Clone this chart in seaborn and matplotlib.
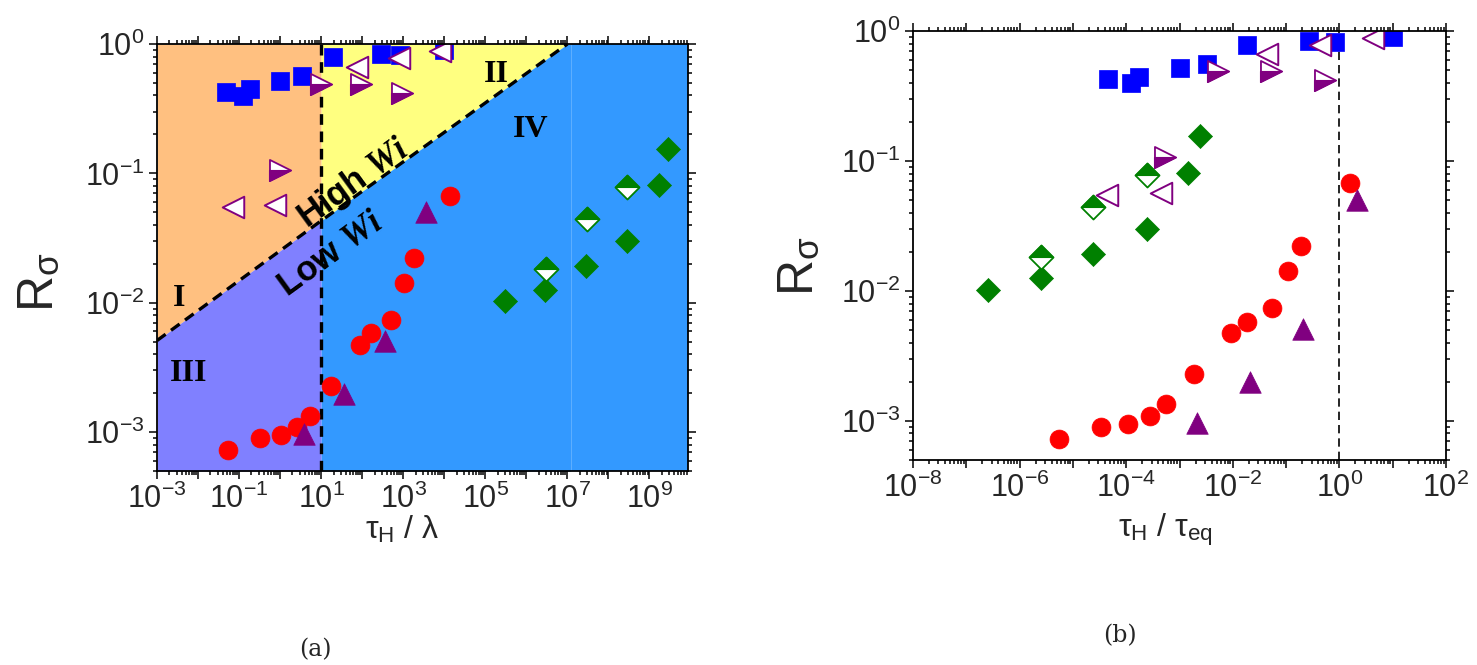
import numpy as np
import matplotlib
matplotlib.use("Agg")
import matplotlib.pyplot as plt
import seaborn as sns
from matplotlib.markers import MarkerStyle
from matplotlib.ticker import LogLocator, FuncFormatter, NullFormatter

# ---------------- data ----------------
# y values (R_sigma) shared by both panels
sq_y = [0.427, 0.398, 0.446, 0.519, 0.562, 0.787, 0.841, 0.828, 0.895]
sq_x_a = [0.0485, 0.124, 0.183, 1.02, 3.37, 19.0, 284, 841, 9590]
sq_x_b = [4.54e-5, 1.21e-4, 1.75e-4, 1.01e-3, 3.30e-3, 0.0188, 0.274, 0.838, 10.1]

ltri_y = [0.0547, 0.0570, 0.668, 0.782, 0.889]
ltri_x_a = [0.0731, 0.757, 73.6, 776, 7870]
ltri_x_b = [4.39e-5, 4.48e-4, 0.0437, 0.439, 4.33]

rtri_y = [0.107, 0.489, 0.494, 0.421]
rtri_x_a = [0.982, 9.73, 94.8, 946]
rtri_x_b = [5.27e-4, 5.27e-3, 0.0530, 0.541]

circ_y = [7.29e-4, 8.95e-4, 9.44e-4, 1.096e-3, 1.34e-3, 2.28e-3, 4.71e-3,
          5.79e-3, 7.35e-3, 0.01426, 0.0222, 0.0674]
circ_x_a = [0.0533, 0.319, 1.06, 2.62, 5.31, 17.3, 86.3, 168, 513, 1023, 1811, 13650]
circ_x_b = [5.58e-6, 3.38e-5, 1.07e-4, 2.75e-4, 5.62e-4, 1.84e-3, 9.16e-3,
            0.01845, 0.0540, 0.110, 0.1945, 1.55]

utri_y = [9.64e-4, 1.977e-3, 5.09e-3, 0.0504]
utri_x_a = [3.72, 37.0, 354, 3590]
utri_x_b = [2.17e-3, 0.0210, 0.211, 2.15]

dia_y = [0.01023, 0.01253, 0.01923, 0.03013, 0.0809, 0.1549]
dia_x_a = [2.99e5, 2.91e6, 2.90e7, 2.88e8, 1.68e9, 2.87e9]
dia_x_b = [2.51e-7, 2.48e-6, 2.40e-5, 2.42e-4, 1.445e-3, 2.43e-3]

hdia_y = [0.01837, 0.0445, 0.0785]
hdia_x_a = [2.98e6, 2.95e7, 2.88e8]
hdia_x_b = [2.48e-6, 2.40e-5, 2.42e-4]

# regime boundaries of panel (a)
diag_x = [1e-3, 10, 1e7]
diag_y = [5.1e-3, 0.043, 1.0]
wi_x = 10
seam_x = 1.2e7
xlim_a = (1e-3, 8.7e9)
xlim_b = (1e-8, 1e2)
ylim = (5e-4, 1.0)
vline_b = 1.0

# ---------------- style ----------------
sns.set_style("ticks")
plt.rcParams["font.family"] = ["Liberation Sans", "DejaVu Sans"]
plt.rcParams["mathtext.fontset"] = "custom"
plt.rcParams["mathtext.rm"] = "Liberation Sans"
plt.rcParams["mathtext.it"] = "Liberation Serif:italic:bold"
plt.rcParams["mathtext.bf"] = "Liberation Sans:bold"
plt.rcParams["mathtext.sf"] = "Liberation Sans"

BLUE = "#0000FF"
RED = "#FF0000"
PURP = "#800080"
GREEN = "#008000"

fig = plt.figure(figsize=(14.77, 6.65), dpi=100)
axA = fig.add_axes([157 / 1477, 1 - 471 / 665, 531 / 1477, 427 / 665])
axB = fig.add_axes([913 / 1477, 1 - 460 / 665, 533 / 1477, 429 / 665])

for ax in (axA, axB):
    ax.set_xscale("log")
    ax.set_yscale("log")


def scat(ax, x, y, marker, face, edge, s, lw, z):
    sns.scatterplot(x=x, y=y, marker=marker, s=s, color=face, edgecolor=edge,
                    linewidth=lw, ax=ax, zorder=z, legend=False)


def draw_points(ax, sx, lx, rx, cx, ux, dx, hx):
    scat(ax, sx, sq_y, "s", BLUE, BLUE, 165, 0.5, 3)
    scat(ax, cx, circ_y, "o", RED, RED, 185, 0.5, 3)
    scat(ax, ux, utri_y, "^", PURP, PURP, 240, 0.5, 4)
    scat(ax, dx, dia_y, "D", GREEN, GREEN, 150, 0.5, 4)
    scat(ax, hx, hdia_y, "D", "white", GREEN, 150, 1.3, 4)
    scat(ax, hx, hdia_y, MarkerStyle("D", fillstyle="top"), GREEN, GREEN, 150, 0.8, 5)
    scat(ax, rx, rtri_y, ">", "white", PURP, 230, 1.3, 5)
    scat(ax, rx, rtri_y, MarkerStyle(">", fillstyle="bottom"), PURP, PURP, 230, 0.8, 6)
    scat(ax, lx, ltri_y, "<", "white", PURP, 240, 1.4, 6)


# ---------------- panel (a) regions ----------------
axA.fill_between(diag_x[:2], diag_y[:2], [ylim[1]] * 2, color="#FFC080", lw=0, zorder=0)
axA.fill_between(diag_x[:2], [ylim[0]] * 2, diag_y[:2], color="#8080FF", lw=0, zorder=0)
axA.fill_between(diag_x[1:], diag_y[1:], [ylim[1]] * 2, color="#FFFF80", lw=0, zorder=0)
axA.fill_between(diag_x[1:] + [seam_x], [ylim[0]] * 3, diag_y[1:] + [ylim[1]],
                 color="#3399FF", lw=0, zorder=0)
axA.fill_between([seam_x, xlim_a[1]], [ylim[0]] * 2, [ylim[1]] * 2,
                 color="#3399FF", lw=0, zorder=0)
axA.axvline(seam_x, color="#66B3FF", lw=0.6, zorder=0.5)

axA.plot(diag_x, diag_y, color="black", lw=2.4, ls=(0, (3.2, 2.0)), zorder=2)
axA.plot([wi_x, wi_x], list(ylim), color="black", lw=2.4, ls=(0, (3.2, 2.0)), zorder=2)

draw_points(axA, sq_x_a, ltri_x_a, rtri_x_a, circ_x_a, utri_x_a, dia_x_a, hdia_x_a)

axA.text(60, 0.0845, r"High $\mathit{Wi}$", rotation=36, rotation_mode="anchor",
         ha="center", va="center", fontsize=25, fontweight="bold", color="black", zorder=7)
axA.text(16.6, 0.0239, r"Low $\mathit{Wi}$", rotation=36, rotation_mode="anchor",
         ha="center", va="center", fontsize=25, fontweight="bold", color="black", zorder=7)
for lab, tx, ty in [("I", 3.5e-3, 0.0107), ("III", 5.85e-3, 2.86e-3),
                    ("II", 1.9e5, 0.576), ("IV", 1.31e6, 0.217)]:
    axA.text(tx, ty, lab, ha="center", va="center", fontsize=23, color="black",
             family="Liberation Serif", fontweight="bold", zorder=7)

# ---------------- panel (b) ----------------
axB.plot([vline_b, vline_b], list(ylim), color="black", lw=1.2, ls=(0, (5.0, 3.0)), zorder=2)
draw_points(axB, sq_x_b, ltri_x_b, rtri_x_b, circ_x_b, utri_x_b, dia_x_b, hdia_x_b)


# ---------------- axes formatting ----------------
def fmt(keep):
    def f(v, pos):
        e = int(np.round(np.log10(v)))
        return r"$\mathregular{10^{%d}}$" % e if keep(e) else ""
    return FuncFormatter(f)


for ax, xl, xkeep in [(axA, xlim_a, lambda e: e % 2 == 1),
                      (axB, xlim_b, lambda e: e % 2 == 0)]:
    ax.set_xlim(*xl)
    ax.set_ylim(*ylim)
    ax.set_xlabel("")
    ax.set_ylabel("")
    ax.xaxis.set_major_locator(LogLocator(base=10, numticks=100))
    ax.xaxis.set_minor_locator(LogLocator(base=10, subs=np.arange(2, 10), numticks=100))
    ax.yaxis.set_major_locator(LogLocator(base=10, numticks=100))
    ax.yaxis.set_minor_locator(LogLocator(base=10, subs=np.arange(2, 10), numticks=100))
    ax.xaxis.set_major_formatter(fmt(xkeep))
    ax.yaxis.set_major_formatter(fmt(lambda e: True))
    ax.xaxis.set_minor_formatter(NullFormatter())
    ax.yaxis.set_minor_formatter(NullFormatter())
    ax.tick_params(which="both", direction="out", top=True, right=True,
                   width=1.1, color="black", labelsize=22, pad=3)
    ax.tick_params(which="major", length=6)
    ax.tick_params(which="minor", length=3)
    for sp in ax.spines.values():
        sp.set_visible(True)
        sp.set_linewidth(1.3)
        sp.set_color("black")
        sp.set_zorder(8)

# axis titles
fig.text(40 / 1477, 1 - 282 / 665, r"R$_{\mathrm{\sigma}}$", rotation=90,
         ha="center", va="center", fontsize=36)
fig.text(800 / 1477, 1 - 266 / 665, r"R$_{\mathrm{\sigma}}$", rotation=90,
         ha="center", va="center", fontsize=36)
fig.text(402 / 1477, 1 - 530 / 665, r"$\mathrm{\tau}_\mathrm{H}$ / $\mathrm{\lambda}$",
         ha="center", va="center", fontsize=23)
fig.text(1165 / 1477, 1 - 530 / 665, r"$\mathrm{\tau}_\mathrm{H}$ / $\mathrm{\tau}_\mathrm{eq}$",
         ha="center", va="center", fontsize=23)
fig.text(315 / 1477, 1 - 650 / 665, "(a)", ha="center", va="center", fontsize=17,
         family="DejaVu Serif")
fig.text(1120 / 1477, 1 - 636 / 665, "(b)", ha="center", va="center", fontsize=17,
         family="DejaVu Serif")

fig.savefig("out.png", dpi=100)
